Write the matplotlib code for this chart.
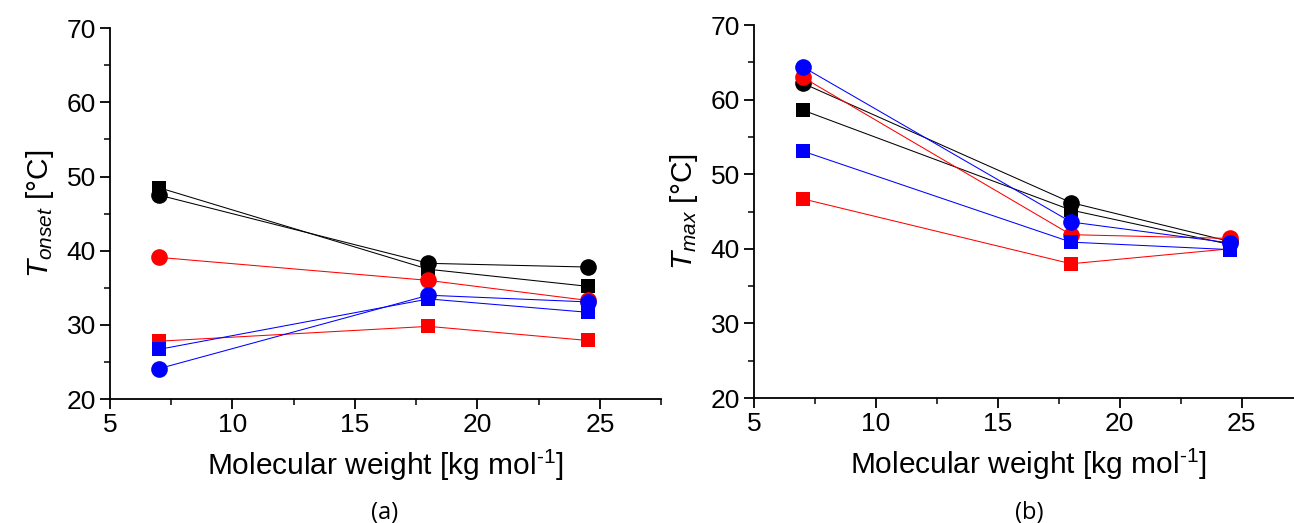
import numpy as np
import matplotlib
matplotlib.use('Agg')
import matplotlib.pyplot as plt
from matplotlib.ticker import MultipleLocator

plt.rcParams['font.family'] = ['Liberation Sans', 'DejaVu Sans']
plt.rcParams['mathtext.fontset'] = 'custom'
plt.rcParams['mathtext.rm'] = 'Liberation Sans'
plt.rcParams['mathtext.it'] = 'Liberation Sans:italic'

# molecular weight [kg/mol]
mw = [7, 18, 24.5]

# (a) T_onset
onset_black_sq = [48.5, 37.5, 35.2]
onset_black_ci = [47.5, 38.3, 37.8]
onset_red_ci = [39.1, 36.0, 33.3]
onset_red_sq = [27.8, 29.8, 27.9]
onset_blue_sq = [26.7, 33.5, 31.7]
onset_blue_ci = [24.1, 34.0, 33.1]

# (b) T_max
max_blue_ci = [64.4, 43.6, 40.8]
max_red_ci = [63.0, 41.9, 41.4]
max_black_ci = [62.2, 46.2, 41.0]
max_black_sq = [58.6, 45.2, 40.6]
max_blue_sq = [53.1, 40.9, 39.9]
max_red_sq = [46.7, 38.0, 40.0]

onset_series = [
    (onset_black_sq, 'black', 's'), (onset_black_ci, 'black', 'o'),
    (onset_red_ci, 'red', 'o'), (onset_red_sq, 'red', 's'),
    (onset_blue_sq, 'blue', 's'), (onset_blue_ci, 'blue', 'o'),
]
max_series = [
    (max_black_sq, 'black', 's'), (max_black_ci, 'black', 'o'),
    (max_red_sq, 'red', 's'), (max_red_ci, 'red', 'o'),
    (max_blue_sq, 'blue', 's'), (max_blue_ci, 'blue', 'o'),
]


def draw_panel(ax, series, ylabel):
    for vals, col, mk in series:
        ms = 12 if mk == 'o' else 10.5
        ax.plot(mw, vals, color=col, lw=0.75, marker=mk, ms=ms,
                markeredgewidth=0, clip_on=False)
    ax.set_xlim(5, 27.5)
    ax.set_ylim(20, 70)
    ax.xaxis.set_major_locator(MultipleLocator(5))
    ax.xaxis.set_minor_locator(MultipleLocator(2.5))
    ax.yaxis.set_major_locator(MultipleLocator(10))
    ax.yaxis.set_minor_locator(MultipleLocator(5))
    for s in ['top', 'right']:
        ax.spines[s].set_visible(False)
    for s in ['left', 'bottom']:
        ax.spines[s].set_linewidth(1.3)
    ax.tick_params(which='major', direction='out', length=7, width=1.3,
                   labelsize=19, pad=3)
    ax.tick_params(which='minor', direction='out', length=4, width=1.1)
    ax.set_xlabel('Molecular weight [kg mol$^{\\text{-1}}$]', fontsize=21.5, labelpad=8)
    ax.set_ylabel(ylabel, fontsize=21.5, labelpad=8)


fig = plt.figure(figsize=(12.94, 5.23), dpi=100)
ax1 = fig.add_axes([0.085, 0.237, 0.426, 0.709])
ax2 = fig.add_axes([0.5827, 0.239, 0.424, 0.713])

draw_panel(ax1, onset_series, '$T_{onset}$ [°C]')
draw_panel(ax2, max_series, '$T_{max}$ [°C]')

fig.text(0.2975, 0.02, '(a)', ha='center', va='center', fontsize=17, family='Open Sans')
fig.text(0.7955, 0.02, '(b)', ha='center', va='center', fontsize=17, family='Open Sans')

fig.savefig('out.png', dpi=100)
